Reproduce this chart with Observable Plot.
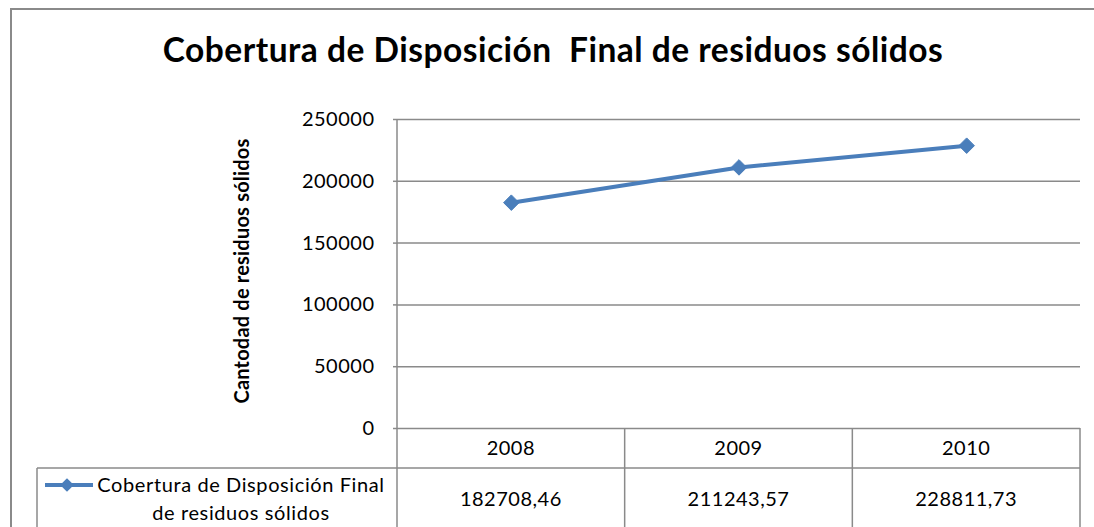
<!DOCTYPE html>
<html>
<head>
<meta charset="utf-8">
<script src="https://cdn.jsdelivr.net/npm/d3@7"></script>
<script src="https://cdn.jsdelivr.net/npm/@observablehq/plot@0.6"></script>
<style>
  html, body { margin: 0; padding: 0; background: #fff; }
  #chart { position: relative; width: 1094px; height: 527px; overflow: hidden; }
  svg { display: block; }
</style>
</head>
<body>
<div id="chart"></div>
<script>
const title = "Cobertura de Disposición\u00a0 Final de residuos sólidos";
const yAxisTitle = "Cantodad de residuos sólidos";
const seriesName = ["Cobertura de Disposición Final", "de residuos sólidos"];
const years = ["2008", "2009", "2010"];
const values = [182708.46, 211243.57, 228811.73];
const valueLabels = ["182708,46", "211243,57", "228811,73"];
const yTicks = [0, 50000, 100000, 150000, 200000, 250000];

const data = years.map((yr, i) => ({ year: yr, pos: i + 0.5, value: values[i] }));

const W = 1094, H = 527;
const pLeft = 397, pRight = 1080, pTop = 119, pBottom = 428;
const blue = "#4a7ebb";
const grid = "#8a8a8a";
const font = "Lato, 'Open Sans', sans-serif";

const plot = Plot.plot({
  width: W,
  height: H,
  marginLeft: pLeft,
  marginRight: W - pRight,
  marginTop: pTop,
  marginBottom: H - pBottom,
  style: { fontFamily: font, fontSize: "20px", color: "#000", background: "transparent", overflow: "visible", letterSpacing: "0.5px" },
  x: { type: "linear", domain: [0, years.length], axis: null },
  y: { domain: [0, 250000], ticks: yTicks, tickFormat: "d", label: null, tickSize: 4, tickPadding: 19 },
  marks: [
    Plot.ruleY(yTicks, { y: d => d, x1: 0, x2: years.length, stroke: grid, strokeWidth: 1.5, strokeOpacity: 1 }),
    Plot.line(data, { x: "pos", y: "value", stroke: blue, strokeWidth: 4, strokeLinejoin: "round" }),
    Plot.dot(data, { x: "pos", y: "value", symbol: "diamond2", r: 7, fill: blue, stroke: blue, strokeWidth: 1 })
  ]
});

const svg = d3.select(plot);
const xs = plot.scale("x");
svg.selectAll("[aria-label='y-axis tick']").attr("stroke", grid).attr("stroke-width", 1.5).attr("stroke-opacity", 1);

const g = svg.append("g").attr("class", "decor");

// outer border
g.append("path").attr("d", `M11,${H + 5}V9H${W + 5}`).attr("fill", "none").attr("stroke", grid).attr("stroke-width", 2);

// title
g.append("text").attr("x", 553).attr("y", 62).attr("text-anchor", "middle")
  .attr("font-family", font).attr("font-weight", "bold").attr("font-size", 33.5).attr("fill", "#000")
  .style("white-space", "pre").text(title);

// y axis title
g.append("text").attr("transform", "translate(249,271) rotate(-90)").attr("text-anchor", "middle")
  .attr("font-family", font).attr("font-weight", "bold").attr("font-size", 20).attr("fill", "#000")
  .attr("letter-spacing", 0.2).text(yAxisTitle);

// data table
const rowTop = pBottom, rowMid = 468;
const x0 = xs.apply(0), x3 = xs.apply(years.length);
g.append("line").attr("x1", x0).attr("x2", x0).attr("y1", pTop).attr("y2", H + 5).attr("stroke", grid).attr("stroke-width", 1.5);
g.append("line").attr("x1", 37).attr("x2", x3).attr("y1", rowMid).attr("y2", rowMid).attr("stroke", grid).attr("stroke-width", 1.5);
g.append("line").attr("x1", 37).attr("x2", 37).attr("y1", rowMid).attr("y2", H + 5).attr("stroke", grid).attr("stroke-width", 1.5);
for (let i = 1; i <= years.length; i++) {
  const xv = xs.apply(i);
  g.append("line").attr("x1", xv).attr("x2", xv).attr("y1", rowTop).attr("y2", H + 5).attr("stroke", grid).attr("stroke-width", 1.5);
}
years.forEach((yr, i) => {
  const cx = xs.apply(i + 0.5);
  g.append("text").attr("x", cx).attr("y", (rowTop + rowMid) / 2).attr("dy", "0.35em").attr("text-anchor", "middle")
    .attr("font-family", font).attr("font-size", 20).attr("letter-spacing", 0.5).attr("fill", "#000").text(yr);
  g.append("text").attr("x", cx).attr("y", 499).attr("dy", "0.35em").attr("text-anchor", "middle")
    .attr("font-family", font).attr("font-size", 20).attr("letter-spacing", 0.5).attr("fill", "#000").text(valueLabels[i]);
});

// legend key
g.append("line").attr("x1", 45).attr("x2", 93).attr("y1", 485).attr("y2", 485).attr("stroke", blue).attr("stroke-width", 4);
g.append("path").attr("d", d3.symbol(d3.symbolDiamond2, 120)()).attr("transform", "translate(67,485)").attr("fill", blue);
g.append("text").attr("x", 241).attr("y", 485).attr("dy", "0.35em").attr("text-anchor", "middle")
  .attr("font-family", font).attr("font-size", 20).attr("letter-spacing", 0.6).attr("fill", "#000").text(seriesName[0]);
g.append("text").attr("x", 241).attr("y", 513).attr("dy", "0.35em").attr("text-anchor", "middle")
  .attr("font-family", font).attr("font-size", 20).attr("letter-spacing", 0.6).attr("fill", "#000").text(seriesName[1]);

// bring data marks to front
svg.selectAll("[aria-label='line'], [aria-label='dot']").raise();

document.getElementById("chart").appendChild(plot);
</script>
</body>
</html>
